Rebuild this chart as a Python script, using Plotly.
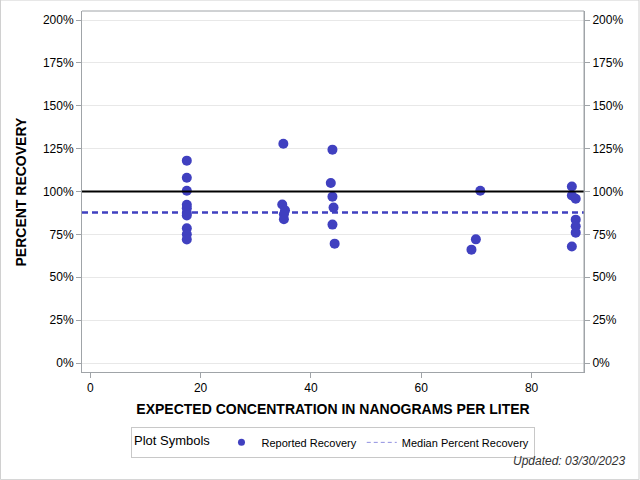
import plotly.graph_objs as go

# expected concentration (ng/L) and percent recovery for each reported sample
conc = [17.5, 17.5, 17.5, 17.5, 17.5, 17.5, 17.5, 17.5, 17.5, 17.5,
        35.0, 34.8, 35.3, 35.1, 35.1,
        43.9, 43.6, 43.9, 44.1, 43.9, 44.3,
        69.1, 69.9, 70.7,
        87.3, 87.3, 88.0, 88.0, 88.0, 88.0, 87.3]
recovery = [118.0, 108.0, 100.4, 92.3, 90.3, 87.5, 86.0, 78.5, 75.0, 72.0,
            127.8, 92.4, 89.0, 86.7, 83.8,
            124.4, 105.0, 97.0, 90.6, 80.7, 69.6,
            66.1, 72.1, 100.4,
            102.9, 97.7, 95.8, 83.6, 79.7, 76.0, 67.9]
median_recovery = 87.7
target_recovery = 100

y_ticks = [0, 25, 50, 75, 100, 125, 150, 175, 200]
y_labels = [f"{v}%" for v in y_ticks]
x_ticks = [0, 20, 40, 60, 80]

blue = "#4040c0"
font = "Liberation Sans, Arial, sans-serif"

fig = go.Figure()

fig.add_trace(go.Scatter(
    x=conc, y=recovery,
    mode="markers",
    name="Reported Recovery",
    marker=dict(color=blue, size=10),
    hoverinfo="x+y",
    showlegend=False,
))
# legend-only entries (smaller symbols, as in the original key)
fig.add_trace(go.Scatter(
    x=[None], y=[None],
    mode="markers",
    name="Reported Recovery",
    marker=dict(color=blue, size=7),
))
fig.add_trace(go.Scatter(
    x=[None], y=[None],
    mode="lines",
    name="Median Percent Recovery",
    line=dict(color="#9090e0", width=1, dash="4px,3px"),
))
# dummy trace so the right-hand axis is drawn
fig.add_trace(go.Scatter(
    x=[None], y=[None], yaxis="y2", showlegend=False, hoverinfo="skip",
))

fig.add_hline(y=target_recovery, line=dict(color="black", width=2))
fig.add_hline(y=median_recovery, line=dict(color=blue, width=2.5, dash="6px,4px"))

axis_common = dict(
    showline=True, linecolor="#a0a4a8", linewidth=1, mirror=False,
    ticks="outside", ticklen=5, tickcolor="#a0a4a8",
    tickfont=dict(size=12, color="black", family=font),
    zeroline=False,
)

fig.update_layout(
    width=640, height=480,
    margin=dict(l=82, r=56, t=11, b=108),
    paper_bgcolor="white", plot_bgcolor="white",
    font=dict(family=font, color="black"),
    xaxis=dict(
        range=[-1.5, 89.5], tickvals=x_ticks,
        title=dict(text="<b>EXPECTED CONCENTRATION IN NANOGRAMS PER LITER</b>",
                   font=dict(size=14), standoff=9),
        showgrid=False, **axis_common,
    ),
    yaxis=dict(
        range=[-5.25, 205.25], tickvals=y_ticks, ticktext=y_labels,
        showgrid=True, gridcolor="#e8e8e8", gridwidth=1, **axis_common,
    ),
    yaxis2=dict(
        range=[-5.25, 205.25], tickvals=y_ticks, ticktext=y_labels,
        overlaying="y", side="right", showgrid=False, **axis_common,
    ),
    legend=dict(
        orientation="h", x=0.5, xanchor="center", y=-0.152, yanchor="top",
        bordercolor="#c8c8c8", borderwidth=1, bgcolor="white",
        font=dict(size=11),
        title=dict(text="Plot Symbols ", font=dict(size=13)),
        itemwidth=30,
    ),
    showlegend=True,
)

# y axis title placed by hand
fig.add_annotation(
    text="<b>PERCENT RECOVERY</b>", textangle=-90,
    xref="paper", yref="paper", x=(20 - 82) / 502, y=0.5,
    xanchor="center", yanchor="middle", showarrow=False,
    font=dict(size=14),
)

# top and right frame lines of the plot area
fig.add_shape(type="line", xref="paper", yref="paper", x0=0, x1=1, y0=1, y1=1,
              line=dict(color="#a0a4a8", width=1))
fig.add_shape(type="line", xref="paper", yref="paper", x0=1, x1=1, y0=0, y1=1,
              line=dict(color="#a0a4a8", width=1))

# outer border around the whole image
fig.add_shape(type="rect", xref="paper", yref="paper",
              x0=-82 / 502 + 0.001, x1=1 + 55 / 502,
              y0=-108 / 361 + 0.001, y1=1 + 11 / 361,
              line=dict(color="#d0d0d0", width=1))

fig.add_annotation(
    text="<i>Updated: 03/30/2023</i>",
    xref="paper", yref="paper", x=1 + 43 / 502, y=-(452 - 372) / 361,
    xanchor="right", yanchor="top", showarrow=False,
    font=dict(size=12, color="#333333"),
)

fig.write_html("out.html", config={"displayModeBar": False},
               post_script="document.body.style.margin = '0';")
